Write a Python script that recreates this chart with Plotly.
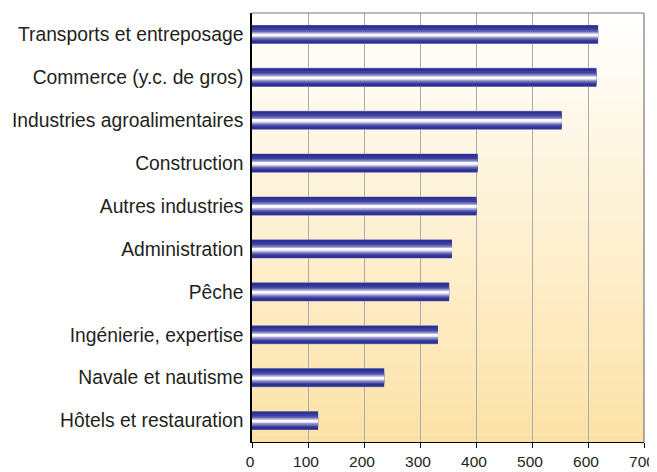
import plotly.graph_objects as go

categories = ["Transports et entreposage", "Commerce (y.c. de gros)", "Industries agroalimentaires",
              "Construction", "Autres industries", "Administration", "Pêche",
              "Ingénierie, expertise", "Navale et nautisme", "Hôtels et restauration"]
values = [618, 615, 553, 403, 401, 357, 352, 332, 236, 118]
x_ticks = [0, 100, 200, 300, 400, 500, 600, 700]

fig = go.Figure()

# cylindrical shading: stacked overlay layers
layers = [(0.445, "#A3A5D3"), (0.425, "#2E3192"), (0.30, "#3E40A0"), (0.22, "#6466B4"),
          (0.15, "#9A9CD0"), (0.09, "#D2D3EE"), (0.045, "#FAFAFF")]
for w, c in layers:
    fig.add_trace(go.Bar(y=categories, x=values, orientation="h", width=w,
                         offset=-w / 2 + 0.015 * (1 if w < 0.3 else 0),
                         marker=dict(color=c, line=dict(width=0)),
                         hoverinfo="skip", showlegend=False, cliponaxis=False))

# background vertical gradient
n = 60
top = (255, 255, 255)
bot = (253, 226, 166)
for i in range(n):
    t = (i + 0.5) / n
    col = tuple(round(top[k] + (bot[k] - top[k]) * t) for k in range(3))
    fig.add_shape(type="rect", xref="paper", yref="paper", x0=0, x1=1,
                  y0=1 - (i + 1) / n, y1=1 - i / n + 0.001,
                  fillcolor="rgb(%d,%d,%d)" % col, line=dict(width=0), layer="below")

# top and right frame
fig.add_shape(type="line", xref="paper", yref="paper", x0=0, x1=1, y0=1, y1=1,
              line=dict(color="#7a7a7a", width=1.2), layer="above")
fig.add_shape(type="line", xref="paper", yref="paper", x0=1, x1=1, y0=0, y1=1,
              line=dict(color="#7a7a7a", width=1.2), layer="above")

# page body has an 8px default margin, so the figure is sized/offset accordingly
fig.update_layout(
    width=657, height=464,
    margin=dict(l=244, r=21, t=5, b=30),
    paper_bgcolor="white", plot_bgcolor="rgba(0,0,0,0)",
    barmode="overlay",
    font=dict(family="Liberation Sans, Arial, sans-serif", color="#231F20"),
    xaxis=dict(range=[0, 700], tickvals=x_ticks, ticktext=[str(v) for v in x_ticks],
               showgrid=True, gridcolor="#ABABAB", gridwidth=1.3, zeroline=False,
               showline=True, linecolor="black", linewidth=1.3,
               ticks="outside", ticklen=5, tickcolor="black", tickwidth=1.2,
               tickfont=dict(size=15.5), layer="below traces", automargin=False,
               ticklabeloverflow="allow", ticklabelshift=-2),
    yaxis=dict(autorange="reversed", showgrid=False, zeroline=False,
               showline=True, linecolor="black", linewidth=1.5,
               ticks="", ticklabelstandoff=3, tickfont=dict(size=19.3), automargin=False),
)

fig.write_html("out.html")
